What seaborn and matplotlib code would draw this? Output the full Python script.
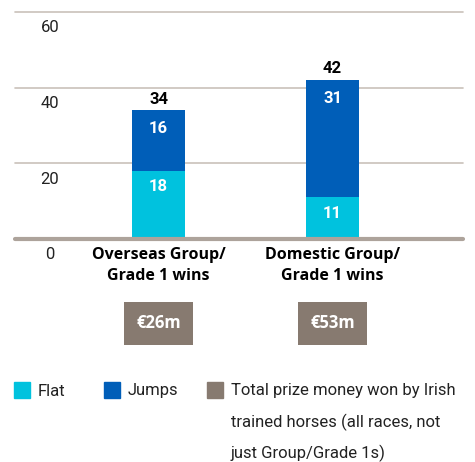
import pandas as pd
import matplotlib.pyplot as plt
import seaborn as sns
from matplotlib.patches import Rectangle

# Data
categories = ["Overseas Group/\nGrade 1 wins", "Domestic Group/\nGrade 1 wins"]
flat = [18, 11]
jumps = [16, 31]
prize_money = ["€26m", "€53m"]
y_ticks = [0, 20, 40, 60]
legend_labels = ["Flat", "Jumps",
                 ["Total prize money won by Irish",
                  "trained horses (all races, not",
                  "just Group/Grade 1s)"]]

df = pd.DataFrame({"category": categories, "Flat": flat, "Jumps": jumps})
df["Total"] = df["Flat"] + df["Jumps"]

flat_col = "#00C2DE"
jumps_col = "#005EB8"
box_col = "#877A70"
grid_col = "#C9C1BA"
base_col = "#ADA39B"

sns.set_style("white")
plt.rcParams["font.family"] = ["Roboto", "DejaVu Sans"]
bold_family = ["Open Sans", "DejaVu Sans"]

W, H = 475, 462
fig = plt.figure(figsize=(W / 100, H / 100), dpi=100)
ax = fig.add_axes([15 / W, 1 - 239 / H, 448 / W, 227 / H])

# stacked bars: total in jumps colour, flat drawn over it
sns.barplot(data=df, x="category", y="Total", color=jumps_col, width=0.305,
            saturation=1, linewidth=0, ax=ax, zorder=3)
sns.barplot(data=df, x="category", y="Flat", color=flat_col, width=0.305,
            saturation=1, linewidth=0, ax=ax, zorder=4)

ax.set_xlim(-0.825, 1.75)
ax.set_ylim(0, 60)
for s in ax.spines.values():
    s.set_visible(False)
ax.set_xlabel("")
ax.set_ylabel("")
ax.set_xticks([])
ax.set_yticks([])

for v in y_ticks[1:]:
    ax.axhline(v, color=grid_col, lw=1.2, zorder=1, clip_on=False)
ax.axhline(0, color=base_col, lw=3, zorder=5, clip_on=False)

# y labels sit just below each gridline
for v in y_ticks:
    ax.annotate(str(v), xy=(-0.624, v), xytext=(0, -11.5), textcoords="offset points",
                ha="center", va="center", fontsize=12, color="#222222",
                annotation_clip=False)

for i, row in df.iterrows():
    # segment values sit near the top of each segment
    ax.annotate(str(row["Flat"]), xy=(i, row["Flat"]), xytext=(0, -11.5),
                textcoords="offset points", ha="center", va="center",
                color="white", fontsize=12, fontweight="bold", zorder=6)
    ax.annotate(str(row["Jumps"]), xy=(i, row["Total"]), xytext=(0, -13),
                textcoords="offset points", ha="center", va="center",
                color="white", fontsize=12, fontweight="bold", zorder=6)
    ax.annotate(str(row["Total"]), xy=(i, row["Total"]), xytext=(0, 8),
                textcoords="offset points", ha="center", va="center",
                fontsize=12, fontweight="bold", color="black")
    # category label
    ax.annotate(row["category"], xy=(i, 0), xytext=(0, -5.5), textcoords="offset points",
                ha="center", va="top", fontsize=11.5, fontweight="bold", color="black",
                family=bold_family, linespacing=1.45, annotation_clip=False)
    # prize money box
    ax.annotate(prize_money[i], xy=(i, 0), xytext=(0, -60.5), textcoords="offset points",
                ha="center", va="center", fontsize=12, fontweight="bold", color="white",
                family=bold_family, annotation_clip=False,
                bbox=dict(boxstyle="square,pad=0.75", fc=box_col, ec="none"))

# legend drawn by hand: squares aligned with the first text line
legend_items = [(14, flat_col, legend_labels[0]),
                (104, jumps_col, legend_labels[1]),
                (207, box_col, legend_labels[2])]
for x0, col, lab in legend_items:
    fig.add_artist(Rectangle((x0 / W, 1 - 398 / H), 16 / W, 16 / H,
                             transform=fig.transFigure, color=col))
    lines = lab if isinstance(lab, list) else [lab]
    for k, line in enumerate(lines):
        fig.text((x0 + 24) / W, 1 - (391 + 31 * k) / H, line, ha="left", va="center",
                 fontsize=12, color="#222222")

fig.savefig("out.png", dpi=100)
